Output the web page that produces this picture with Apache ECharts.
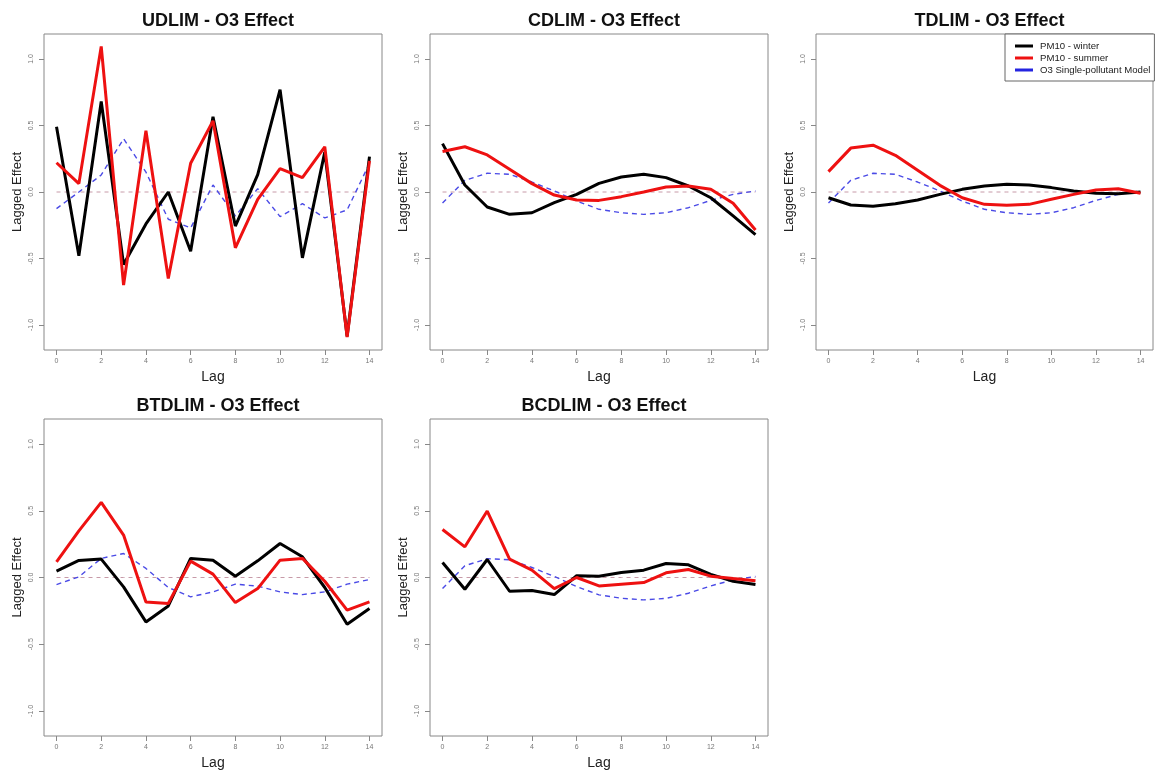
<!DOCTYPE html>
<html>
<head>
<meta charset="utf-8">
<script src="https://cdn.jsdelivr.net/npm/echarts@6/dist/echarts.min.js"></script>
<style>
  html, body { margin: 0; padding: 0; background: #fff; }
  #chart { width: 1155px; height: 771px; }
</style>
</head>
<body>
<div id="chart"></div>
<script>
const lags = [0, 1, 2, 3, 4, 5, 6, 7, 8, 9, 10, 11, 12, 13, 14]
const xTicks = [0, 2, 4, 6, 8, 10, 12, 14]
const yTicks = [-1, -0.5, 0, 0.5, 1]

const panelTitles = ['UDLIM - O3 Effect', 'CDLIM - O3 Effect', 'TDLIM - O3 Effect', 'BTDLIM - O3 Effect', 'BCDLIM - O3 Effect']

// PM10 - winter
const winterU = [0.49, -0.48, 0.68, -0.545, -0.24, 0.0, -0.445, 0.565, -0.256, 0.13, 0.77, -0.495, 0.30, -1.085, 0.266]
const winterC = [0.364, 0.053, -0.113, -0.168, -0.156, -0.08, -0.018, 0.065, 0.113, 0.133, 0.108, 0.045, -0.043, -0.18, -0.32]
const winterT = [-0.043, -0.098, -0.108, -0.088, -0.06, -0.018, 0.02, 0.045, 0.058, 0.053, 0.033, 0.008, -0.01, -0.013, 0.0]
const winterBT = [0.048, 0.128, 0.138, -0.07, -0.333, -0.213, 0.143, 0.13, 0.01, 0.125, 0.255, 0.155, -0.075, -0.35, -0.233]
const winterBC = [0.113, -0.088, 0.135, -0.103, -0.098, -0.128, 0.013, 0.01, 0.038, 0.055, 0.105, 0.095, 0.023, -0.028, -0.053]

// PM10 - summer
const summerU = [0.22, 0.063, 1.095, -0.70, 0.46, -0.65, 0.216, 0.535, -0.42, -0.055, 0.176, 0.108, 0.34, -1.09, 0.234]
const summerC = [0.304, 0.34, 0.279, 0.171, 0.063, -0.023, -0.06, -0.063, -0.035, 0.0, 0.038, 0.045, 0.02, -0.085, -0.286]
const summerT = [0.153, 0.33, 0.352, 0.276, 0.163, 0.05, -0.043, -0.093, -0.1, -0.093, -0.055, -0.018, 0.015, 0.025, -0.01]
const summerBT = [0.118, 0.35, 0.563, 0.318, -0.183, -0.195, 0.123, 0.025, -0.188, -0.083, 0.13, 0.143, -0.028, -0.245, -0.183]
const summerBC = [0.36, 0.23, 0.498, 0.138, 0.055, -0.083, 0.0, -0.063, -0.05, -0.038, 0.035, 0.06, 0.01, -0.008, -0.025]

// O3 Single-pollutant Model
const singleU = [-0.125, 0.0, 0.128, 0.40, 0.15, -0.205, -0.27, 0.053, -0.18, 0.025, -0.185, -0.088, -0.195, -0.135, 0.216]
const singleC = [-0.083, 0.088, 0.141, 0.133, 0.075, 0.008, -0.068, -0.13, -0.156, -0.168, -0.156, -0.118, -0.063, -0.018, 0.008]
const singleBT = [-0.053, 0.005, 0.143, 0.18, 0.068, -0.075, -0.145, -0.108, -0.05, -0.065, -0.108, -0.128, -0.108, -0.05, -0.015]

const zeroLine = lags.map(() => 0)

const panels = [
    { winter: winterU, summer: summerU, single: singleU },
    { winter: winterC, summer: summerC, single: singleC },
    { winter: winterT, summer: summerT, single: singleC },
    { winter: winterBT, summer: summerBT, single: singleBT },
    { winter: winterBC, summer: summerBC, single: singleC }
]

const boxes = [
    { left: 44, top: 34, width: 338, height: 316 },
    { left: 430, top: 34, width: 338, height: 316 },
    { left: 816, top: 34, width: 337, height: 316 },
    { left: 44, top: 419, width: 338, height: 317 },
    { left: 430, top: 419, width: 338, height: 317 }
]

const pairs = (ys) => lags.map((l, i) => [l, ys[i]])

const option = {
    animation: false,
    backgroundColor: '#fff',
    textStyle: { fontFamily: 'Liberation Sans, Arial, sans-serif' },
    title: boxes.map((b, i) => ({
        text: panelTitles[i],
        left: b.left + b.width / 2,
        top: b.top - 27,
        textAlign: 'center',
        textStyle: { fontSize: 18, fontWeight: 'bold', color: '#111', fontFamily: 'Liberation Sans, Arial, sans-serif' }
    })),
    legend: {
        data: ['PM10 - winter', 'PM10 - summer', 'O3 Single-pollutant Model'],
        orient: 'vertical',
        left: 1005,
        top: 34,
        icon: 'rect',
        itemWidth: 18,
        itemHeight: 3,
        itemGap: 2,
        padding: [7, 4, 6, 10],
        borderColor: '#666',
        borderWidth: 1,
        borderRadius: 0,
        backgroundColor: '#fff',
        textStyle: { fontSize: 9.6, color: '#222', padding: [0, 0, 0, 2] }
    },
    grid: boxes.map(b => ({ ...b, show: true, borderColor: '#888', borderWidth: 1, backgroundColor: 'transparent' })),
    xAxis: boxes.map((b, i) => ({
        type: 'value',
        gridIndex: i,
        min: -0.56,
        max: 14.56,
        name: 'Lag',
        nameLocation: 'middle',
        nameGap: 20,
        nameTextStyle: { fontSize: 14, color: '#222' },
        axisLine: { show: false, onZero: false },
        splitLine: { show: false },
        axisTick: { show: true, customValues: xTicks, length: 5, lineStyle: { color: '#888' } },
        axisLabel: { customValues: xTicks, fontSize: 7, color: '#777', margin: 8 }
    })),
    yAxis: boxes.map((b, i) => ({
        type: 'value',
        gridIndex: i,
        min: -1.188,
        max: 1.188,
        name: 'Lagged Effect',
        nameLocation: 'middle',
        nameGap: 20,
        nameTextStyle: { fontSize: 13, color: '#222' },
        axisLine: { show: false, onZero: false },
        splitLine: { show: false },
        axisTick: { show: true, customValues: yTicks, length: 5, lineStyle: { color: '#888' } },
        axisLabel: {
            customValues: yTicks,
            rotate: 90,
            fontSize: 7,
            color: '#777',
            margin: 9,
            formatter: v => v.toFixed(1)
        }
    })),
    series: panels.flatMap((p, i) => [
        {
            name: 'zero',
            type: 'line',
            xAxisIndex: i,
            yAxisIndex: i,
            data: pairs(zeroLine),
            symbol: 'none',
            silent: true,
            lineStyle: { color: '#c79aa8', width: 1, type: [4, 4] }
        },
        {
            name: 'O3 Single-pollutant Model',
            type: 'line',
            xAxisIndex: i,
            yAxisIndex: i,
            data: pairs(p.single),
            symbol: 'none',
            itemStyle: { color: '#2424e0' },
            lineStyle: { color: '#4a4ae6', width: 1.4, type: [5, 4] }
        },
        {
            name: 'PM10 - winter',
            type: 'line',
            xAxisIndex: i,
            yAxisIndex: i,
            data: pairs(p.winter),
            symbol: 'none',
            itemStyle: { color: '#000' },
            lineStyle: { color: '#000', width: 3 }
        },
        {
            name: 'PM10 - summer',
            type: 'line',
            xAxisIndex: i,
            yAxisIndex: i,
            data: pairs(p.summer),
            symbol: 'none',
            itemStyle: { color: '#ee1111' },
            lineStyle: { color: '#ee1111', width: 3 }
        }
    ])
}

const chart = echarts.init(document.getElementById('chart'))
chart.setOption(option)
</script>
</body>
</html>
